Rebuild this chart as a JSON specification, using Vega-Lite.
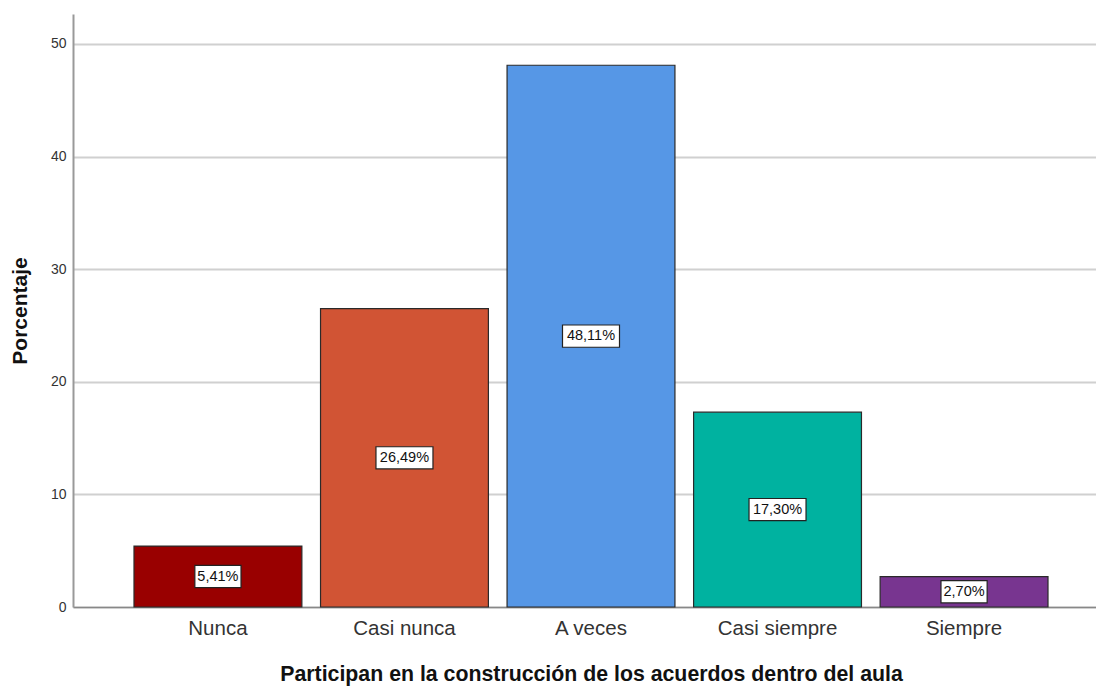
{
  "$schema": "https://vega.github.io/schema/vega-lite/v6.json",
  "autosize": "none",
  "padding": {"left": 73, "top": 14, "right": 0, "bottom": 80},
  "width": 1036,
  "height": 593,
  "background": "white",
  "config": {
    "view": {"stroke": null},
    "font": "Liberation Sans"
  },
  "data": {
    "values": [
      {"cat": "Nunca", "pct": 5.41, "label": "5,41%"},
      {"cat": "Casi nunca", "pct": 26.49, "label": "26,49%"},
      {"cat": "A veces", "pct": 48.11, "label": "48,11%"},
      {"cat": "Casi siempre", "pct": 17.30, "label": "17,30%"},
      {"cat": "Siempre", "pct": 2.70, "label": "2,70%"}
    ]
  },
  "resolve": {"scale": {"y": "independent"}},
  "encoding": {
    "x": {
      "field": "cat",
      "type": "nominal",
      "sort": null,
      "scale": {"paddingInner": 0.1, "paddingOuter": 0.327},
      "axis": {
        "orient": "bottom",
        "title": "Participan en la construcción de los acuerdos dentro del aula",
        "titleFontSize": 21.3,
        "titleFontWeight": "bold",
        "titleColor": "#111",
        "titlePadding": 25,
        "labelAngle": 0,
        "labelFontSize": 20.5,
        "labelColor": "#333",
        "labelPadding": 11,
        "ticks": false,
        "domainColor": "#888",
        "domainWidth": 1.5
      }
    }
  },
  "layer": [
    {
      "mark": {"type": "bar", "stroke": "#2a2a2a", "strokeWidth": 1.2},
      "encoding": {
        "y": {
          "field": "pct",
          "type": "quantitative",
          "scale": {"domain": [0, 52.66], "nice": false},
          "axis": {
            "orient": "left",
            "title": "Porcentaje",
            "titleFontSize": 21,
            "titleFontWeight": "bold",
            "titleColor": "#111",
            "titlePadding": 20,
            "values": [0, 10, 20, 30, 40, 50],
            "labelFontSize": 14,
            "labelColor": "#333",
            "labelPadding": 7,
            "ticks": false,
            "domainColor": "#999",
            "domainWidth": 2,
            "grid": true,
            "gridColor": "#d0d0d0",
            "gridWidth": 2
          }
        },
        "color": {
          "field": "cat",
          "type": "nominal",
          "legend": null,
          "scale": {
            "domain": ["Nunca", "Casi nunca", "A veces", "Casi siempre", "Siempre"],
            "range": ["#990000", "#d15434", "#5697e6", "#00b2a0", "#783590"]
          }
        }
      }
    },
    {
      "layer": [
        {
          "mark": {"type": "point", "filled": true, "fill": "white", "stroke": "#222", "strokeWidth": 1.2, "opacity": 1, "size": 3249},
          "encoding": {
            "shape": {
              "condition": {"test": "length(datum.label) > 5", "value": "M-1,-0.39L1,-0.39L1,0.39L-1,0.39Z"},
              "value": "M-0.81,-0.39L0.81,-0.39L0.81,0.39L-0.81,0.39Z"
            }
          }
        },
        {
          "mark": {"type": "text", "fontSize": 14.5, "color": "#111", "baseline": "middle"},
          "encoding": {
            "text": {"field": "label"}
          }
        }
      ],
      "encoding": {
        "y": {"field": "pct", "type": "quantitative", "scale": {"domain": [0, 105.32], "nice": false}, "axis": null}
      }
    }
  ]
}
